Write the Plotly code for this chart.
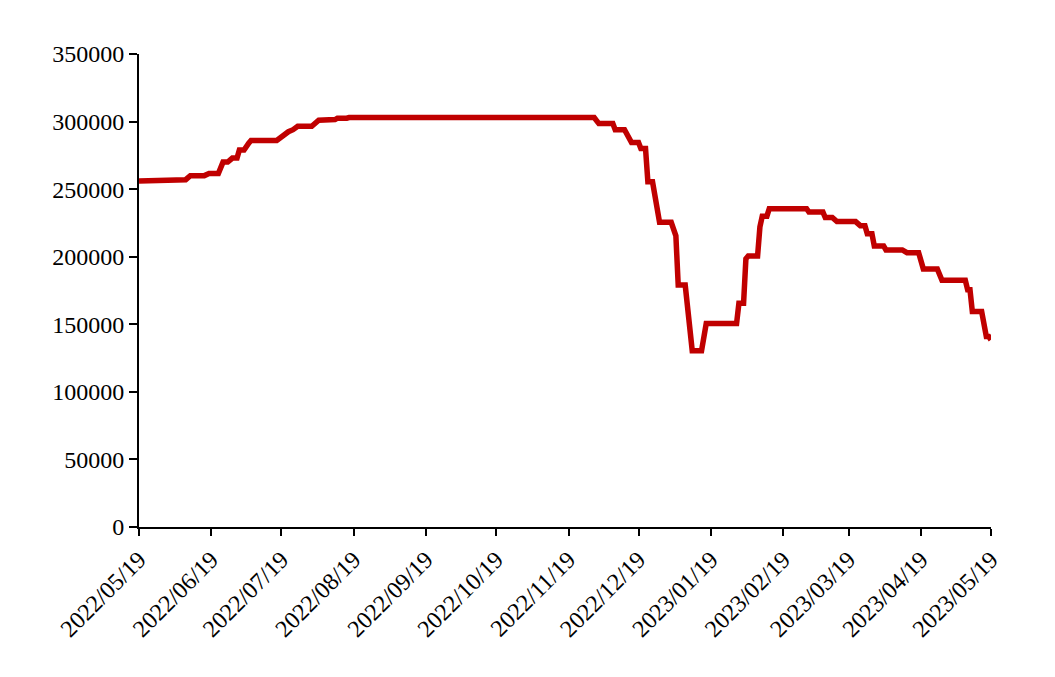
import pandas as pd
import plotly.graph_objects as go

start_date = "2022-05-19"
day_offsets = [0, 6, 7, 20, 22, 28, 30, 34, 36, 38, 40, 42, 43, 45, 47, 48, 59, 63, 64, 66, 68, 74, 77, 84,
               85, 89, 90, 195, 197, 203, 204, 208, 211, 214, 215, 217, 218, 220, 221, 223, 228, 230, 231,
               234, 237, 241, 243, 256, 257, 259, 260, 261, 265, 266, 267, 269, 270, 286, 287, 293, 294,
               297, 299, 307, 309, 311, 312, 314, 315, 319, 320, 327, 329, 334, 336, 342, 344, 354, 355,
               356, 357, 361, 363, 364, 365]
values = [256000, 256000, 257000, 257000, 260000, 260000, 261500, 261500, 270000, 270000, 273000, 273000,
          279000, 279000, 284000, 286000, 286000, 291500, 292500, 294000, 296500, 296500, 301000, 301500,
          302500, 302500, 303000, 303000, 298500, 298500, 294000, 294000, 284500, 284500, 280000, 280000,
          255500, 255500, 245000, 225500, 225500, 215500, 179000, 179000, 130500, 130500, 150500, 150500,
          165500, 165500, 198500, 200500, 200500, 222000, 230000, 230000, 235500, 235500, 233000, 233000,
          229000, 229000, 226000, 226000, 223000, 223000, 217000, 217000, 208000, 208000, 205000, 205000,
          203000, 203000, 191000, 191000, 182500, 182500, 175500, 175500, 159500, 159500, 141000, 141000,
          138500]
tick_dates = ["2022-05-19", "2022-06-19", "2022-07-19", "2022-08-19", "2022-09-19", "2022-10-19",
              "2022-11-19", "2022-12-19", "2023-01-19", "2023-02-19", "2023-03-19", "2023-04-19",
              "2023-05-19"]
tick_labels = [d.replace("-", "/") for d in tick_dates]
y_ticks = [0, 50000, 100000, 150000, 200000, 250000, 300000, 350000]

dates = pd.Timestamp(start_date) + pd.to_timedelta(day_offsets, unit="D")

font = dict(family="Liberation Serif, Times New Roman, serif", size=24, color="black")

fig = go.Figure()
fig.add_trace(go.Scatter(x=dates, y=values, mode="lines",
                         line=dict(color="#C00000", width=5.5), showlegend=False))
fig.update_layout(
    width=1055, height=677,
    margin=dict(l=131, r=72, t=46, b=158, autoexpand=False),
    paper_bgcolor="white", plot_bgcolor="white",
    font=font,
)
fig.update_xaxes(
    type="date", range=[tick_dates[0], tick_dates[-1]],
    tickmode="array", tickvals=tick_dates, ticktext=tick_labels,
    tickangle=-45, ticks="outside", ticklen=7, tickwidth=2, tickcolor="black",
    showline=True, linecolor="black", linewidth=2, showgrid=False, zeroline=False,
    tickfont=font,
)
fig.update_yaxes(
    range=[0, 350000], tickmode="array", tickvals=y_ticks,
    ticktext=[str(v) for v in y_ticks],
    ticks="outside", ticklen=8, tickwidth=2, tickcolor="black",
    showline=True, linecolor="black", linewidth=2, showgrid=False, zeroline=False,
    tickfont=font,
)
fig.write_html("out.html")
